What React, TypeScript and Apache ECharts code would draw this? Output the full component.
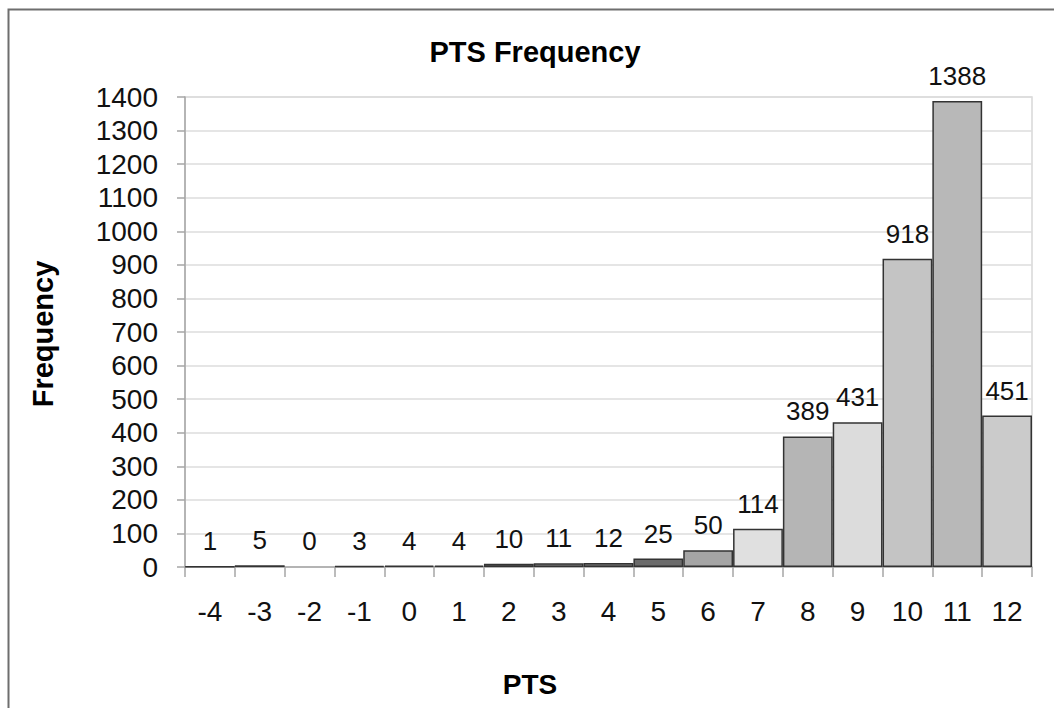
import React, { useEffect, useRef } from "react";
import * as echarts from "echarts";

const categories = ["-4", "-3", "-2", "-1", "0", "1", "2", "3", "4", "5", "6", "7", "8", "9", "10", "11", "12"];
const frequencies = [1, 5, 0, 3, 4, 4, 10, 11, 12, 25, 50, 114, 389, 431, 918, 1388, 451];
const barColors = [
  "#9a9a9a", "#8c8c8c", "#9a9a9a", "#a0a0a0", "#a8a8a8", "#a0a0a0", "#7a7a7a", "#8a8a8a", "#7e7e7e",
  "#6b6b6b", "#a5a5a5", "#e0e0e0", "#b5b5b5", "#dcdcdc", "#c4c4c4", "#b8b8b8", "#cbcbcb",
];
const yTicks = { min: 0, max: 1400, interval: 100 };

const FONT = "'Liberation Sans', Arial, Helvetica, sans-serif";

export default function App() {
  const ref = useRef<HTMLDivElement>(null);
  useEffect(() => {
    document.body.style.margin = "0";
    const chart = echarts.init(ref.current!, null, { renderer: "svg" });
    chart.setOption({
      animation: false,
      backgroundColor: "#ffffff",
      textStyle: { fontFamily: FONT },
      title: {
        text: "PTS Frequency",
        left: 530,
        top: 32,
        textAlign: "center",
        textStyle: { fontFamily: FONT, fontSize: 29, fontWeight: "bold", color: "#000" },
      },
      grid: {
        left: 185,
        right: 22,
        top: 97,
        bottom: 141,
        show: true,
        borderColor: "#d8d8d8",
        borderWidth: 1.5,
        backgroundColor: "transparent",
      },
      xAxis: {
        type: "category",
        data: categories,
        boundaryGap: true,
        axisLine: { lineStyle: { color: "#a6a6a6", width: 1.5 } },
        axisTick: { show: true, length: 10, interval: 0, lineStyle: { color: "#a6a6a6", width: 1.5 } },
        axisLabel: { interval: 0, margin: 30, fontSize: 28, color: "#111", fontFamily: FONT },
        splitLine: { show: false },
      },
      yAxis: {
        type: "value",
        min: yTicks.min,
        max: yTicks.max,
        interval: yTicks.interval,
        axisLine: { show: true, lineStyle: { color: "#a6a6a6", width: 1.5 } },
        axisTick: { show: true, length: 8, lineStyle: { color: "#a6a6a6", width: 1.5 } },
        axisLabel: {
          margin: 27,
          fontSize: 28,
          color: "#111",
          fontFamily: FONT,
          formatter: (v: number) => String(v),
        },
        splitLine: { show: true, lineStyle: { color: "#dcdcdc", width: 1.5 } },
      },
      series: [
        {
          type: "bar",
          barCategoryGap: "0%",
          data: frequencies.map((v, i) => ({
            value: v,
            itemStyle: { color: barColors[i], borderColor: v === 0 ? "transparent" : "#333333", borderWidth: 1.5 },
          })),
          label: {
            show: true,
            position: "top",
            distance: 12,
            fontSize: 26,
            color: "#111",
            fontFamily: FONT,
          },
        },
      ],
      graphic: [
        {
          type: "rect",
          shape: { x: 8.5, y: 9.5, width: 1200, height: 900 },
          style: { fill: "none", stroke: "#6e6e6e", lineWidth: 2 },
          silent: true,
        },
        {
          type: "text",
          x: 530,
          y: 684,
          style: {
            text: "PTS",
            font: `bold 28px ${FONT}`,
            fill: "#000",
            align: "center",
            verticalAlign: "middle",
          },
        },
        {
          type: "text",
          x: 43,
          y: 334,
          rotation: Math.PI / 2,
          style: {
            text: "Frequency",
            font: `bold 29px ${FONT}`,
            fill: "#000",
            align: "center",
            verticalAlign: "middle",
          },
        },
      ],
    });
    return () => chart.dispose();
  }, []);
  return <div ref={ref} style={{ width: 1054, height: 708 }} />;
}
